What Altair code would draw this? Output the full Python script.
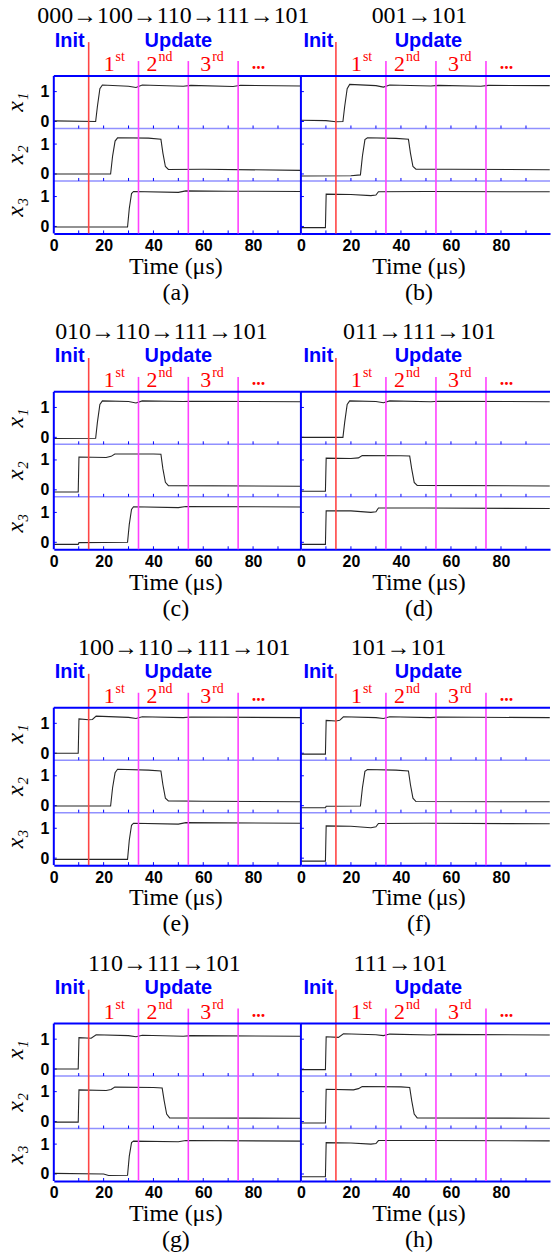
import altair as alt
import pandas as pd

# ---------------- data ----------------
PANEL_LETTERS = ["a", "b", "c", "d", "e", "f", "g", "h"]
PANEL_TITLES = ["000→100→110→111→101", "001→101",
                "010→110→111→101", "011→111→101",
                "100→110→111→101", "101→101",
                "110→111→101", "111→101"]
ROW_NAMES = ["x1", "x2", "x3"]
ROW_LABELS = ["x₁", "x₂", "x₃"]
TICK_VALUES = [0, 20, 40, 60, 80]
MINOR_TICKS = [10, 20, 30, 40, 50, 60, 70, 80, 90]
INIT_TIME = [14]
UPDATE_TIMES = [34, 54, 74]
STEP_MAIN = ["1", "2", "3"]
STEP_SUP = ["st", "nd", "rd"]
ELLIPSIS = ["..."]

# traces: (time in us, level)
A_X1 = [(0, 0.02), (16.8, 0.0), (17.5, 0.5), (18.5, 1.1), (19.5, 1.22), (30, 1.18), (33, 1.14), (35.5, 1.22), (52, 1.18), (55, 1.21), (72, 1.17), (75, 1.21), (99.5, 1.19)]
A_X2 = [(0, 0.0), (22.8, 0.0), (23.6, 0.6), (24.6, 1.1), (25.6, 1.21), (38, 1.2), (43, 1.16), (43.8, 0.7), (44.8, 0.25), (46, 0.15), (60, 0.16), (99.5, 0.12)]
A_X3 = [(0, -0.02), (29.6, -0.02), (30.3, 0.6), (31.2, 1.1), (32, 1.17), (50, 1.14), (53, 1.19), (70, 1.18), (99.5, 1.17)]

B_X1 = [(0, 0.04), (10, 0.03), (14, -0.01), (16.8, 0.0), (17.5, 0.5), (18.5, 1.1), (19.5, 1.24), (30, 1.2), (33, 1.15), (35.5, 1.22), (52, 1.19), (55, 1.21), (72, 1.18), (75, 1.21), (99.5, 1.2)]
B_X2 = [(0, -0.07), (20, -0.06), (23.8, -0.03), (24.6, 0.6), (25.6, 1.15), (26.6, 1.21), (38, 1.19), (43, 1.16), (43.8, 0.7), (44.8, 0.25), (46, 0.16), (60, 0.16), (99.5, 0.14)]
B_X3 = [(0, -0.04), (9.8, -0.04), (10.1, 1.08), (20, 1.07), (28, 1.03), (30, 1.05), (31, 1.16), (50, 1.17), (99.5, 1.16)]

C_X1 = [(0, -0.04), (16.8, -0.03), (17.5, 0.5), (18.5, 1.1), (19.5, 1.22), (30, 1.2), (33, 1.15), (35.5, 1.22), (52, 1.2), (55, 1.21), (99.5, 1.19)]
C_X2 = [(0, -0.07), (9.8, -0.07), (10.1, 1.1), (21, 1.08), (23, 1.12), (24.5, 1.2), (40, 1.2), (43, 1.19), (43.8, 0.7), (44.8, 0.25), (46, 0.14), (99.5, 0.12)]
C_X3 = [(0, -0.07), (9.8, -0.07), (10.1, -0.01), (29.6, 0.0), (30.3, 0.6), (31.2, 1.1), (32, 1.19), (50, 1.16), (53, 1.2), (99.5, 1.18)]

D_X1 = [(0, 0.0), (16.8, 0.0), (17.5, 0.5), (18.5, 1.1), (19.5, 1.22), (30, 1.2), (33, 1.16), (35.5, 1.22), (52, 1.19), (55, 1.21), (99.5, 1.19)]
D_X2 = [(0, -0.05), (9.8, -0.05), (10.1, 1.06), (20, 1.05), (23, 1.07), (24.5, 1.15), (40, 1.14), (43.5, 1.13), (44.3, 0.7), (45.3, 0.25), (46.5, 0.15), (99.5, 0.13)]
D_X3 = [(0, -0.07), (9.8, -0.07), (10.1, 1.05), (20, 1.05), (28, 1.0), (30, 1.02), (31, 1.15), (50, 1.15), (99.5, 1.13)]

E_X1 = [(0, 0.0), (9.8, 0.0), (10.1, 1.15), (14, 1.12), (15.5, 1.13), (17, 1.24), (30, 1.2), (33, 1.16), (35.5, 1.22), (52, 1.19), (55, 1.21), (99.5, 1.19)]
E_X2 = [(0, -0.01), (22.8, -0.01), (23.6, 0.6), (24.6, 1.1), (25.6, 1.22), (38, 1.19), (43, 1.16), (43.8, 0.7), (44.8, 0.25), (46, 0.16), (60, 0.15), (99.5, 0.13)]
E_X3 = [(0, -0.04), (29.6, -0.04), (30.3, 0.6), (31.2, 1.1), (32, 1.17), (50, 1.14), (53, 1.19), (99.5, 1.17)]

F_X1 = [(0, -0.03), (9.8, -0.03), (10.1, 1.1), (14, 1.08), (15.5, 1.1), (17, 1.22), (30, 1.19), (33, 1.16), (35.5, 1.22), (52, 1.19), (55, 1.21), (99.5, 1.19)]
F_X2 = [(0, -0.07), (9.8, -0.07), (10.1, -0.02), (23.8, -0.01), (24.6, 0.6), (25.6, 1.15), (26.6, 1.21), (38, 1.19), (43, 1.16), (43.8, 0.7), (44.8, 0.25), (46, 0.14), (99.5, 0.13)]
F_X3 = [(0, -0.1), (9.8, -0.1), (10.1, 1.08), (20, 1.07), (28, 1.02), (30, 1.05), (31, 1.16), (50, 1.17), (99.5, 1.15)]

G_X1 = [(0, 0.0), (9.8, 0.0), (10.1, 1.05), (15, 1.03), (17, 1.15), (30, 1.12), (33, 1.08), (35.5, 1.13), (52, 1.1), (55, 1.12), (99.5, 1.1)]
G_X2 = [(0, -0.02), (9.8, -0.02), (10.1, 1.06), (21, 1.04), (23, 1.07), (24.5, 1.15), (40, 1.14), (43.5, 1.12), (44.3, 0.7), (45.3, 0.25), (46.5, 0.12), (99.5, 0.11)]
G_X3 = [(0, 0.02), (20, 0.0), (22, -0.05), (29.6, -0.04), (30.3, 0.6), (31.2, 1.05), (32, 1.1), (50, 1.08), (53, 1.12), (99.5, 1.1)]

H_X1 = [(0, -0.02), (9.8, -0.02), (10.1, 1.08), (15, 1.06), (17, 1.18), (30, 1.15), (33, 1.12), (35.5, 1.17), (52, 1.14), (55, 1.16), (99.5, 1.14)]
H_X2 = [(0, -0.05), (9.8, -0.05), (10.1, 1.08), (21, 1.06), (23, 1.1), (24.5, 1.17), (40, 1.16), (43.5, 1.14), (44.3, 0.7), (45.3, 0.25), (46.5, 0.12), (99.5, 0.11)]
H_X3 = [(0, -0.09), (9.8, -0.09), (10.1, 1.05), (20, 1.04), (28, 1.0), (30, 1.02), (31, 1.12), (50, 1.12), (99.5, 1.11)]

TRACES = {
    "a": (A_X1, A_X2, A_X3), "b": (B_X1, B_X2, B_X3),
    "c": (C_X1, C_X2, C_X3), "d": (D_X1, D_X2, D_X3),
    "e": (E_X1, E_X2, E_X3), "f": (F_X1, F_X2, F_X3),
    "g": (G_X1, G_X2, G_X3), "h": (H_X1, H_X2, H_X3),
}

# ---------------- layout / style ----------------
PX = 30.0                      # pixels per unit of level
FRAME_PX = 158.0
HEADER_PX = 74.0
SUB_H = FRAME_PX / 3 / PX      # height of each sub-plot, in level units
Z0 = 7.0 / PX                  # where level 0 sits above each sub-plot bottom
FRAME_TOP = 3 * SUB_H
Y_TOP = (FRAME_PX + HEADER_PX) / PX
PLOT_H = int(FRAME_PX + HEADER_PX)
ROW_GAP = 317 - PLOT_H
WIDTHS = [248, 250]
XMAX = [99.2, 99.6]
TITLE_CENTER_PX = [120, 119, 108, 119, 131, 98, 111, 100]
AXIS_TITLE_X = [122, 118]
INIT_T = [0.4, 1.0]
UPDATE_T = [50, 51]
STEP_MAIN_T = [22.2, 39.4, 61.0]
STEP_SUP_T = [24.8, 42.0, 63.6]
ELLIPSIS_T = [82.2]

BLUE = "#0000ff"
LIGHT_BLUE = "#9090ff"
RED_LINE = "#ff4545"
MAGENTA = "#ff40ff"
RED_TEXT = "#ff0000"
TRACE_COLOR = "#262626"
SERIF = "Liberation Serif"
SANS = "Liberation Sans"

Y_LABEL_VALUES = [Z0 + k * SUB_H + v for k in range(3) for v in (0, 1)]
Y_LABEL_EXPR = (
    f"((datum.value - {Z0})/{SUB_H} - floor((datum.value - {Z0})/{SUB_H} + 0.000001)) > 0.3 ? '1' : '0'"
)


def panel(idx):
    letter = PANEL_LETTERS[idx]
    col = idx % 2
    xs = alt.Scale(domain=[0, XMAX[col]], nice=False, zero=False)
    ys = alt.Scale(domain=[0, Y_TOP], nice=False, zero=False)
    xaxis = alt.Axis(
        values=TICK_VALUES, labelFlush=False, ticks=False, grid=False,
        domainColor=BLUE, domainWidth=2,
        labelFont=SANS, labelFontWeight="bold", labelFontSize=16,
        labelColor="black", labelPadding=4,
        title=["Time (μs)", f"({letter})"], titleFont=SERIF, titleFontSize=24,
        titleFontWeight="normal", titleColor="black", titleLineHeight=26,
        titlePadding=1, titleX=AXIS_TITLE_X[col],
    )
    if col == 0:
        yaxis = alt.Axis(
            values=Y_LABEL_VALUES, labelExpr=Y_LABEL_EXPR, domain=False,
            ticks=False, grid=False, labelFont=SANS, labelFontWeight="bold",
            labelFontSize=16, labelColor="black", labelPadding=5, title=None,
        )
    else:
        yaxis = None

    def X(field="t"):
        return alt.X(f"{field}:Q", scale=xs, axis=xaxis)

    def Y(field="yy"):
        return alt.Y(f"{field}:Q", scale=ys, axis=yaxis)

    # traces
    recs = []
    for k_row, (name, pts) in enumerate(zip(ROW_NAMES, TRACES[letter])):
        k = 2 - k_row
        for i, (t, v) in enumerate(pts):
            recs.append({"row": name, "k": k, "i": i, "t": t, "v": v})
    tr = pd.DataFrame(recs)

    layers = []
    # dividers
    layers.append(
        alt.Chart(pd.DataFrame({"yy": [SUB_H, 2 * SUB_H]}))
        .mark_rule(color=LIGHT_BLUE, strokeWidth=1.5)
        .encode(y=Y())
    )
    # small inward ticks on bottom axis and dividers
    tk = pd.DataFrame([{"t": t, "yy": lv, "yy2": lv + 3 / PX}
                       for lv in (0, SUB_H, 2 * SUB_H) for t in MINOR_TICKS])
    layers.append(
        alt.Chart(tk).mark_rule(color=BLUE, strokeWidth=1)
        .encode(x=X(), y=Y(), y2="yy2:Q")
    )
    ytk = pd.DataFrame({"t": [0] * len(Y_LABEL_VALUES), "t2": [1.2] * len(Y_LABEL_VALUES),
                        "yy": Y_LABEL_VALUES})
    layers.append(
        alt.Chart(ytk).mark_rule(color=BLUE, strokeWidth=1)
        .encode(x=X(), x2="t2:Q", y=Y())
    )
    # traces
    layers.append(
        alt.Chart(tr)
        .transform_calculate(yy=f"datum.v + datum.k*{SUB_H} + {Z0}")
        .mark_line(color=TRACE_COLOR, strokeWidth=1.1, clip=True)
        .encode(x=X(), y=Y(), detail="row:N", order="i:Q")
    )
    # init line and update lines
    layers.append(
        alt.Chart(pd.DataFrame({"t": INIT_TIME, "yy": [0], "yy2": [FRAME_TOP + 34 / PX]}))
        .mark_rule(color=RED_LINE, strokeWidth=1.6)
        .encode(x=X(), y=Y(), y2="yy2:Q")
    )
    layers.append(
        alt.Chart(pd.DataFrame({"t": UPDATE_TIMES, "yy": [0] * 3,
                                "yy2": [FRAME_TOP + 15 / PX] * 3}))
        .mark_rule(color=MAGENTA, strokeWidth=1.6)
        .encode(x=X(), y=Y(), y2="yy2:Q")
    )
    # frame: top and left borders
    layers.append(
        alt.Chart(pd.DataFrame({"yy": [FRAME_TOP]}))
        .mark_rule(color=BLUE, strokeWidth=2)
        .encode(y=Y())
    )
    layers.append(
        alt.Chart(pd.DataFrame({"t": [0], "yy": [0], "yy2": [FRAME_TOP]}))
        .mark_rule(color=BLUE, strokeWidth=2)
        .encode(x=X(), y=Y(), y2="yy2:Q")
    )
    # panel title (state sequence)
    title_t = TITLE_CENTER_PX[idx] * XMAX[col] / WIDTHS[col]
    layers.append(
        alt.Chart(pd.DataFrame({"t": [title_t], "yy": [FRAME_TOP + 53 / PX],
                                "s": [PANEL_TITLES[idx]]}))
        .mark_text(align="center", baseline="alphabetic", font=SERIF, fontSize=24,
                   color="black")
        .encode(x=X(), y=Y(), text="s:N")
    )
    # Init / Update labels
    layers.append(
        alt.Chart(pd.DataFrame({"t": [INIT_T[col]], "yy": [FRAME_TOP + 35.5 / PX], "s": ["Init"]}))
        .mark_text(align="left", baseline="middle", font=SANS, fontWeight="bold",
                   fontSize=20, color=BLUE)
        .encode(x=X(), y=Y(), text="s:N")
    )
    layers.append(
        alt.Chart(pd.DataFrame({"t": [UPDATE_T[col]], "yy": [FRAME_TOP + 35.5 / PX], "s": ["Update"]}))
        .mark_text(align="center", baseline="middle", font=SANS, fontWeight="bold",
                   fontSize=20, color=BLUE)
        .encode(x=X(), y=Y(), text="s:N")
    )
    # 1st 2nd 3rd ...
    layers.append(
        alt.Chart(pd.DataFrame({"t": STEP_MAIN_T, "yy": [FRAME_TOP + 5 / PX] * 3, "s": STEP_MAIN}))
        .mark_text(align="center", baseline="alphabetic", font=SERIF, fontSize=22, color=RED_TEXT)
        .encode(x=X(), y=Y(), text="s:N")
    )
    layers.append(
        alt.Chart(pd.DataFrame({"t": STEP_SUP_T, "yy": [FRAME_TOP + 15 / PX] * 3, "s": STEP_SUP}))
        .mark_text(align="left", baseline="alphabetic", font=SERIF, fontSize=14, color=RED_TEXT)
        .encode(x=X(), y=Y(), text="s:N")
    )
    layers.append(
        alt.Chart(pd.DataFrame({"t": ELLIPSIS_T, "yy": [FRAME_TOP + 7 / PX], "s": ELLIPSIS}))
        .mark_text(align="center", baseline="alphabetic", font=SERIF, fontWeight="bold",
                   fontSize=18, color=RED_TEXT)
        .encode(x=X(), y=Y(), text="s:N")
    )
    # row labels x1 x2 x3 (left column only)
    if col == 0:
        lab = pd.DataFrame({"t": [-15] * 3,
                            "yy": [(2 - k) * SUB_H + SUB_H / 2 for k in range(3)],
                            "s": ROW_LABELS})
        layers.append(
            alt.Chart(lab)
            .mark_text(align="center", baseline="middle", font=SERIF, fontStyle="italic",
                       fontSize=24, angle=270, color="black")
            .encode(x=X(), y=Y(), text="s:N")
        )

    return alt.layer(*layers).properties(width=WIDTHS[col], height=PLOT_H)


chart = alt.concat(
    *[panel(i) for i in range(8)], columns=2,
    spacing={"row": ROW_GAP, "column": 0}, bounds="flush",
).properties(
    padding={"left": 4, "top": 0, "right": 0, "bottom": 0},
    background="white",
).configure_view(stroke=None)

chart.save("out.html", embed_options={"renderer": "svg", "actions": False})
